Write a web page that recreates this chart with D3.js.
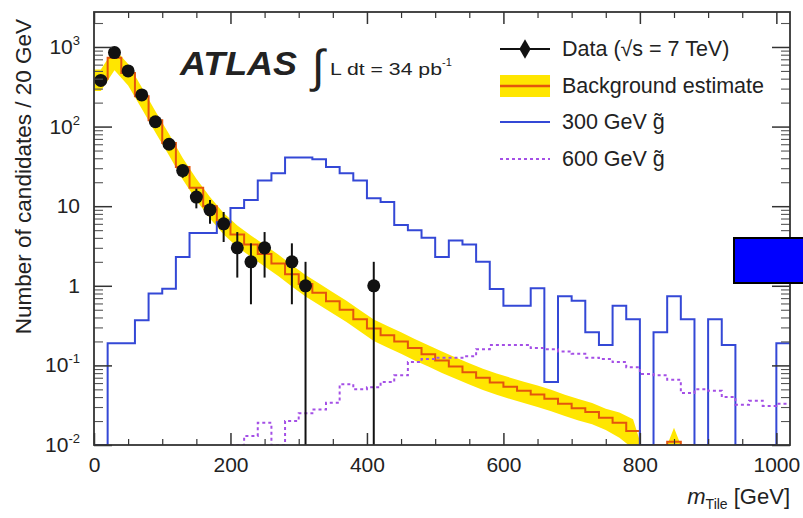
<!DOCTYPE html>
<html><head><meta charset="utf-8">
<script src="https://cdn.jsdelivr.net/npm/d3@7"></script>
<style>
body{margin:0;background:#fff}
svg{display:block}
text{font-family:"Liberation Sans",Arial,Helvetica,sans-serif;fill:#222}
</style>
</head><body>
<svg id="c" width="803" height="518"></svg>
<script>
// ---------------- data ----------------
const binWidth = 20; // GeV
// observed data, bins of 20 GeV starting at 0
const dataCounts = [380, 850, 500, 250, 115, 60, 28, 13, 9, 6, 3, 2, 3, 0, 2, 1, 0, 0, 0, 0, 1];
// background estimate, bins of 20 GeV starting at 0
const bkgValues = [400, 730, 470, 240, 120, 62, 31, 17, 10, 6.3,
  4.4, 3.3, 2.5, 1.9, 1.4, 1.05, 0.82, 0.64, 0.5, 0.38,
  0.29, 0.24, 0.2, 0.165, 0.138, 0.115, 0.097, 0.082, 0.07, 0.061,
  0.054, 0.048, 0.043, 0.038, 0.033, 0.029, 0.026, 0.022, 0.019, 0.015,
  0, 0, 0.011, 0];
// relative uncertainty of the background estimate
const bkgRelErr = [0.3, 0.3, 0.3, 0.3, 0.3, 0.3, 0.3, 0.3, 0.3, 0.3,
  0.3, 0.3, 0.3, 0.3, 0.3, 0.3, 0.3, 0.3, 0.3, 0.3,
  0.3, 0.3, 0.3, 0.3, 0.3, 0.3, 0.3, 0.3, 0.3, 0.3,
  0.3, 0.3, 0.3, 0.3, 0.3, 0.3, 0.3, 0.3, 0.35, 0.4,
  0, 0, 0.5, 0];
// 300 GeV gluino signal, bins of 20 GeV starting at 0
const sig300 = [0, 0.19, 0.19, 0.37, 0.8, 0.92, 2.3, 4.6, 4.6, 6.3,
  9.5, 12, 21, 26, 41, 41, 39, 31, 26, 21,
  12.6, 11.3, 5.8, 5.0, 4.0, 2.3, 3.7, 3.3, 2.0, 0.91,
  0.56, 0.56, 0.93, 0.062, 0.74, 0.65, 0.26, 0.18, 0.56, 0.38,
  0, 0.26, 0.74, 0.38, 0, 0.38, 0.18, 0, 0, 0, 0.19];
// 600 GeV gluino signal, bins of 20 GeV starting at 200 GeV
const sig600Start = 200;
const sig600 = [0, 0.013, 0.019, 0, 0.02, 0.025, 0.028, 0.034, 0.058, 0.05,
  0.053, 0.062, 0.075, 0.11, 0.12, 0.125, 0.125, 0.13, 0.16, 0.18,
  0.18, 0.18, 0.165, 0.16, 0.15, 0.14, 0.125, 0.12, 0.11, 0.095,
  0.078, 0.075, 0.066, 0.045, 0.05, 0.048, 0.04, 0.032, 0.036, 0.031, 0.033];
const xTicks = [0, 200, 400, 600, 800, 1000];
const yTicks = [1e-2, 1e-1, 1, 10, 100, 1000];
const yTickBase = ["10", "10", "1", "10", "10", "10"];
const yTickExp  = ["-2", "-1", "", "", "2", "3"];
const legendLabels = ["Data (\u221As = 7 TeV)", "Background estimate", "300 GeV g\u0303", "600 GeV g\u0303"];

// ---------------- layout ----------------
const svg = d3.select("#c");
const P = {l: 94, r: 790, t: 12, b: 445};
const x = d3.scaleLinear().domain([0, 1020]).range([P.l, P.r]);
const y = d3.scaleLog().domain([0.01, 2750]).range([P.b, P.t]);
const yc = v => y(Math.max(v, 0.01));
const yb = v => y(Math.max(v, 0.006));

const C = {blue: "#3448d6", purple: "#a44fe6", orange: "#e4560c", yellow: "#ffe600", frame: "#333"};

svg.append("defs").append("clipPath").attr("id", "pc")
  .append("rect").attr("x", P.l).attr("y", P.t).attr("width", P.r - P.l).attr("height", P.b - P.t);
const plot = svg.append("g").attr("clip-path", "url(#pc)");

function stepPts(vals, start) {
  const pts = vals.map((v, i) => [start + i * binWidth, v]);
  pts.push([start + vals.length * binWidth, vals[vals.length - 1]]);
  return pts;
}
const stepLine = d3.line().x(d => x(d[0])).y(d => yc(d[1])).curve(d3.curveStepAfter);

// background band
const band = bkgValues.map((v, i) => ({c: (i + 0.5) * binWidth, lo: v * (1 - bkgRelErr[i]), hi: v * (1 + bkgRelErr[i])}));
band.unshift({c: 0, lo: band[0].lo, hi: band[0].hi});
plot.append("path").datum(band)
  .attr("d", d3.area().x(d => x(d.c)).y0(d => yb(d.lo)).y1(d => yb(d.hi)))
  .attr("fill", C.yellow).attr("stroke", "none");

// background line
plot.append("path").datum(stepPts(bkgValues, 0)).attr("d", stepLine)
  .attr("fill", "none").attr("stroke", C.orange).attr("stroke-width", 2);

// signals
plot.append("path").datum(stepPts(sig300, 0)).attr("d", stepLine)
  .attr("fill", "none").attr("stroke", C.blue).attr("stroke-width", 2);
plot.append("path").datum(stepPts(sig600, sig600Start)).attr("d", stepLine)
  .attr("fill", "none").attr("stroke", C.purple).attr("stroke-width", 2).attr("stroke-dasharray", "3,3");

// data
const pts = dataCounts.map((n, i) => ({c: (i + 0.5) * binWidth, n})).filter(d => d.n > 0);
plot.selectAll("line.err").data(pts).enter().append("line")
  .attr("x1", d => x(d.c)).attr("x2", d => x(d.c))
  .attr("y1", d => yc(d.n + Math.sqrt(d.n)))
  .attr("y2", d => (d.n - Math.sqrt(d.n)) > 0 ? yc(d.n - Math.sqrt(d.n)) : P.b + 2)
  .attr("stroke", "#111").attr("stroke-width", 2);
plot.selectAll("circle.pt").data(pts).enter().append("circle")
  .attr("cx", d => x(d.c)).attr("cy", d => y(d.n)).attr("r", 6.5).attr("fill", "#111");

// ---------------- axes ----------------
const gx = svg.append("g").attr("transform", `translate(0,${P.b})`)
  .call(d3.axisBottom(x).tickValues(xTicks).tickSize(-12).tickPadding(8).tickFormat(d3.format("d")));
gx.select(".domain").remove();
gx.selectAll("text").attr("font-size", 21).attr("fill", "#333").attr("dy", "0.9em");
gx.selectAll("line").attr("stroke", C.frame).attr("stroke-width", 1.5);
const xMinor = d3.range(0, 1020, 50).filter(v => !xTicks.includes(v));
svg.append("g").attr("transform", `translate(0,${P.b})`)
  .call(d3.axisBottom(x).tickValues(xMinor).tickSize(-6).tickFormat(""))
  .call(g => g.select(".domain").remove()).selectAll("line").attr("stroke", C.frame).attr("stroke-width", 1.2);
svg.append("g").attr("transform", `translate(0,${P.t})`)
  .call(d3.axisTop(x).tickValues(xTicks).tickSize(-12).tickFormat(""))
  .call(g => g.select(".domain").remove()).selectAll("line").attr("stroke", C.frame).attr("stroke-width", 1.5);
svg.append("g").attr("transform", `translate(0,${P.t})`)
  .call(d3.axisTop(x).tickValues(xMinor).tickSize(-6).tickFormat(""))
  .call(g => g.select(".domain").remove()).selectAll("line").attr("stroke", C.frame).attr("stroke-width", 1.2);

const yMinor = [];
[0.01, 0.1, 1, 10, 100, 1000].forEach(dec => { for (let k = 2; k <= 9; k++) { if (dec * k <= 2750) yMinor.push(dec * k); } });
[[P.l, d3.axisLeft], [P.r, d3.axisRight]].forEach(([px, ax]) => {
  svg.append("g").attr("transform", `translate(${px},0)`)
    .call(ax(y).tickValues(yTicks).tickSize(-18).tickFormat(""))
    .call(g => g.select(".domain").remove()).selectAll("line").attr("stroke", C.frame).attr("stroke-width", 1.5);
  svg.append("g").attr("transform", `translate(${px},0)`)
    .call(ax(y).tickValues(yMinor).tickSize(-9).tickFormat(""))
    .call(g => g.select(".domain").remove()).selectAll("line").attr("stroke", "#555").attr("stroke-width", 1.1);
});
const yl = svg.append("g");
yTicks.forEach((v, i) => {
  const t = yl.append("text").attr("x", 80).attr("y", y(v) + 7).attr("text-anchor", "end")
    .attr("font-size", 21).attr("fill", "#333");
  t.append("tspan").text(yTickBase[i]);
  if (yTickExp[i]) t.append("tspan").attr("dy", -9).attr("font-size", 13).text(yTickExp[i]);
});

// frame
svg.append("rect").attr("x", P.l).attr("y", P.t).attr("width", P.r - P.l).attr("height", P.b - P.t)
  .attr("fill", "none").attr("stroke", C.frame).attr("stroke-width", 1.8);

// axis titles
svg.append("text").attr("transform", `translate(31,${P.t + 7}) rotate(-90)`).attr("text-anchor", "end")
  .attr("font-size", 22.5).attr("fill", "#333").text("Number of candidates / 20 GeV");
const xt = svg.append("text").attr("x", P.r).attr("y", 504).attr("text-anchor", "end").attr("font-size", 22).attr("fill", "#333");
xt.append("tspan").attr("font-style", "italic").text("m");
xt.append("tspan").attr("font-size", 14).attr("dy", 5).text("Tile");
xt.append("tspan").attr("dy", -5).text(" [GeV]");

// ATLAS label
svg.append("text").attr("x", 180).attr("y", 75).attr("font-size", 33).attr("font-weight", "bold")
  .attr("font-style", "italic").attr("fill", "#111")
  .attr("textLength", 117).attr("lengthAdjust", "spacingAndGlyphs").text("ATLAS");
svg.append("text").attr("x", 312).attr("y", 82).attr("font-size", 46)
  .attr("font-family", "DejaVu Sans").attr("fill", "#222").text("\u222B");
const lum = svg.append("text").attr("x", 330).attr("y", 75).attr("font-size", 17).attr("fill", "#222");
lum.append("tspan").attr("textLength", 112).attr("lengthAdjust", "spacingAndGlyphs").text("L dt = 34 pb");
lum.append("tspan").attr("dy", -9).attr("font-size", 11).text("-1");

// legend
const lg = svg.append("g");
const rowY = [49, 86, 122, 159];
const lx0 = 500, lx1 = 550, ltx = 562;
lg.append("line").attr("x1", lx0).attr("x2", lx1).attr("y1", rowY[0]).attr("y2", rowY[0]).attr("stroke", "#111").attr("stroke-width", 2);
lg.append("path").attr("d", d3.symbol(d3.symbolDiamond, 110)()).attr("transform", `translate(${(lx0 + lx1) / 2},${rowY[0]})`).attr("fill", "#111");
lg.append("rect").attr("x", lx0).attr("y", rowY[1] - 11).attr("width", lx1 - lx0).attr("height", 22).attr("fill", C.yellow);
lg.append("line").attr("x1", lx0).attr("x2", lx1).attr("y1", rowY[1]).attr("y2", rowY[1]).attr("stroke", C.orange).attr("stroke-width", 2.5);
lg.append("line").attr("x1", lx0).attr("x2", lx1).attr("y1", rowY[2]).attr("y2", rowY[2]).attr("stroke", C.blue).attr("stroke-width", 2);
lg.append("line").attr("x1", lx0).attr("x2", lx1).attr("y1", rowY[3]).attr("y2", rowY[3]).attr("stroke", C.purple).attr("stroke-width", 2).attr("stroke-dasharray", "3,3");
legendLabels.forEach((s, i) => {
  lg.append("text").attr("x", ltx).attr("y", rowY[i] + 7).attr("font-size", 21.5).attr("fill", "#333").text(s);
});

// occluding box present in the reference picture
svg.append("rect").attr("x", 734).attr("y", 238).attr("width", 80).attr("height", 45)
  .attr("fill", "#0000ff").attr("stroke", "#000").attr("stroke-width", 2);
</script>
</body></html>
